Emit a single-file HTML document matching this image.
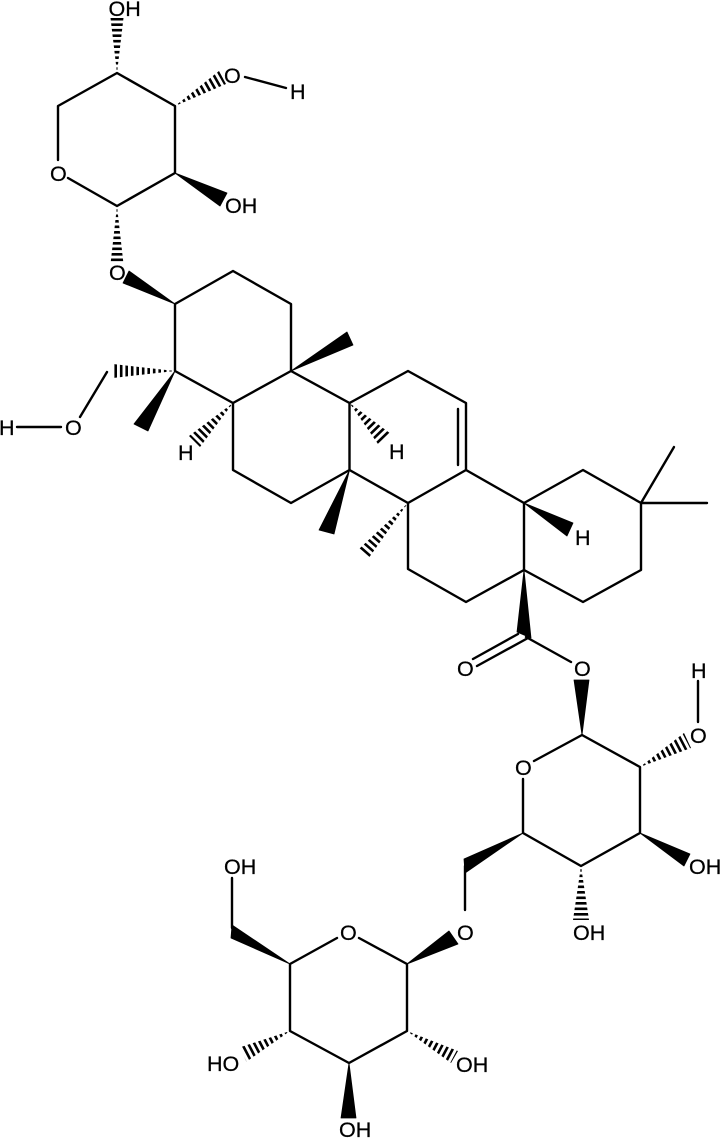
<!DOCTYPE html>
<html>
<head>
<meta charset="utf-8">
<style>
html,body{margin:0;padding:0;background:#fff;}
svg{display:block;}
text{font-family:"Liberation Sans",sans-serif;font-size:21.5px;fill:#000;stroke:#000;stroke-width:0.25px;}
</style>
</head>
<body>
<svg width="721" height="1138" viewBox="0 0 721 1138" xmlns="http://www.w3.org/2000/svg">
<defs>
<clipPath id="h1"><polygon points="117,73 110.500,18 123.500,18"/></clipPath>
<clipPath id="h2"><polygon points="175,106 219,71 226,84"/></clipPath>
<clipPath id="h3"><polygon points="117,206 110.500,264 123.500,264"/></clipPath>
<clipPath id="h4"><polygon points="175,371 113,364 113,378"/></clipPath>
<clipPath id="h5"><polygon points="233,403 189,436 200,447"/></clipPath>
<clipPath id="h6"><polygon points="349.5,403 378,444 391,434"/></clipPath>
<clipPath id="h7"><polygon points="408,503 359,549 368,559"/></clipPath>
<clipPath id="h8"><polygon points="640,767 684,733 691,748"/></clipPath>
<clipPath id="h9"><polygon points="581,866 573,920 589,920"/></clipPath>
<clipPath id="h10"><polygon points="290,1031 241,1047 246,1062"/></clipPath>
<clipPath id="h11"><polygon points="407,1031 451,1063 458,1051"/></clipPath>
</defs>

<g stroke="#000" stroke-width="2.4" fill="none" stroke-linecap="round" stroke-linejoin="round">
<!-- top sugar -->
<path d="M58,160 L58,106 L117,73 L175,106 L175,173 L117,206 L68,178"/>
<path d="M245,77 L286,88"/>
<!-- rings -->
<path d="M175,304 L233,271 L291,304 L291,371 L233,403 L175,371 L175,304"/>
<path d="M291,371 L349.5,403 L349.5,470 L291,503 L233,470 L233,403"/>
<path d="M349.5,403 L408,371 L466,403 L466,470 L408,503 L349.5,470"/>
<path d="M458,409 L458,465"/>
<path d="M466,470 L524,503 L524,570 L466,602 L408,569 L408,503"/>
<path d="M524,503 L583,470 L641,503 L641,570 L583,602 L524,570"/>
<path d="M641,503 L674,447 M641,503 L707,503"/>
<!-- CH2OH left -->
<path d="M107,372 L80,417 M17,427 L61,427"/>
<!-- carbonyl -->
<path d="M473,659 L518,634 M477,666 L528,638 M526,637 L571,662"/>
<!-- sugar 2 -->
<path d="M582,735 L640,767 L640,833 L581,866 L523,833 L523,779 M534,761 L582,735"/>
<path d="M698,681 L698,722"/>
<path d="M465,866 L465,910"/>
<!-- bottom sugar -->
<path d="M337,938 L290,964 L290,1031 L349,1063 L407,1031 L407,964 L359,938"/>
<path d="M232,878 L232,928"/>
</g>

<!-- solid wedges -->
<g fill="#000" stroke="#000" stroke-width="0.8" stroke-linejoin="round">
<polygon points="175,173 227,193 220,206"/>
<polygon points="175,304 129,271 123,283"/>
<polygon points="175,371 134,424 148,431"/>
<polygon points="291,371 347,332 353,345"/>
<polygon points="349.5,470 319,530 334,534"/>
<polygon points="524,503 573,523 567,536"/>
<polygon points="524,570 517,632 531,638"/>
<polygon points="582,735 574,680 589,680"/>
<polygon points="640,833 690,854 684,866"/>
<polygon points="523,833 464,859 465,873"/>
<polygon points="407,964 449,931 458,944"/>
<polygon points="290,964 232,925 231,938"/>
<polygon points="349,1063 341,1118 356,1118"/>
</g>

<!-- hashed wedges -->
<g stroke="#000" stroke-width="22" stroke-dasharray="2.6 2.9" fill="none">
<line x1="117" y1="70" x2="117" y2="18" clip-path="url(#h1)"/>
<line x1="178" y1="104" x2="224" y2="78" clip-path="url(#h2)"/>
<line x1="117" y1="209" x2="117" y2="264" clip-path="url(#h3)"/>
<line x1="172" y1="371" x2="113" y2="371" clip-path="url(#h4)"/>
<line x1="231" y1="405" x2="194" y2="442" clip-path="url(#h5)"/>
<line x1="351" y1="405" x2="385" y2="440" clip-path="url(#h6)"/>
<line x1="406" y1="505" x2="363" y2="554" clip-path="url(#h7)"/>
<line x1="643" y1="765" x2="689" y2="741" clip-path="url(#h8)"/>
<line x1="581" y1="869" x2="581" y2="920" clip-path="url(#h9)"/>
<line x1="287" y1="1032" x2="243" y2="1055" clip-path="url(#h10)"/>
<line x1="410" y1="1033" x2="455" y2="1057" clip-path="url(#h11)"/>
</g>

<!-- labels -->
<text x="108.500" y="16">OH</text>
<text x="224" y="83">O</text>
<text x="290" y="99">H</text>
<text x="50" y="181">O</text>
<text x="225" y="213">OH</text>
<text x="109" y="280">O</text>
<text x="65" y="435">O</text>
<text x="-1" y="435">H</text>
<text x="178" y="460">H</text>
<text x="389" y="459">H</text>
<text x="575" y="545">H</text>
<text x="457" y="676">O</text>
<text x="574" y="676">O</text>
<text x="691" y="678">H</text>
<text x="690" y="743">O</text>
<text x="515" y="775">O</text>
<text x="689" y="874">OH</text>
<text x="573" y="940">OH</text>
<text x="457" y="940">O</text>
<text x="224" y="874">OH</text>
<text x="340" y="940">O</text>
<text x="207" y="1071">HO</text>
<text x="456" y="1072">OH</text>
<text x="339" y="1137">OH</text>
</svg>
</body>
</html>
